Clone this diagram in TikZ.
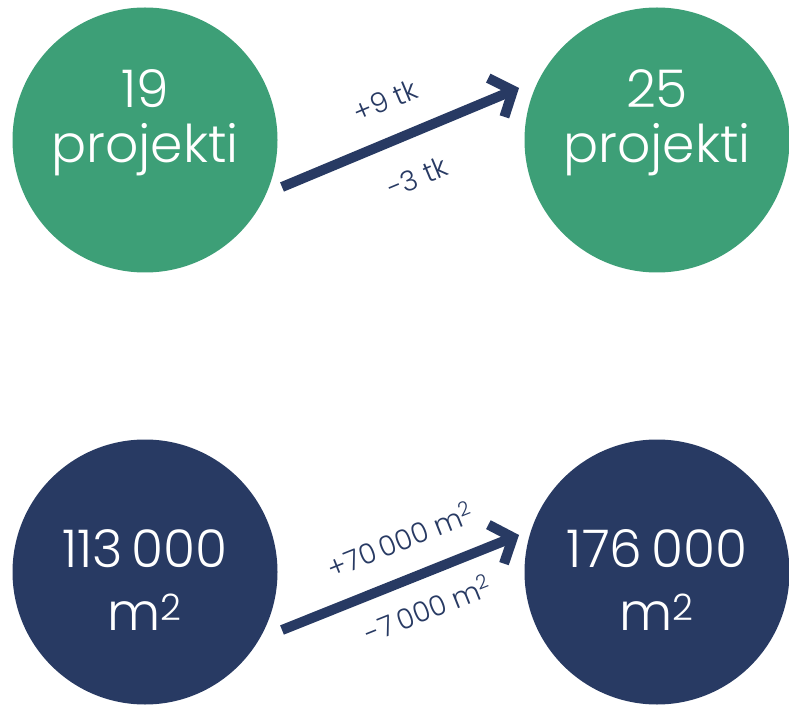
\documentclass[tikz,border=0pt]{standalone}
\usepackage{fontspec}
\setmainfont{Poppins}[UprightFont={* Light}]
\usetikzlibrary{arrows.meta}
\definecolor{kgreen}{HTML}{3D9F77}
\definecolor{knavy}{HTML}{283A63}
\tikzset{
	bubble/.style={circle, minimum size=265pt, inner sep=0pt},
	bigtxt/.style={text=white, anchor=base, font=\fontsize{52}{56}\selectfont},
	growth/.style={draw=knavy, line width=10pt, -{Straight Barb[length=18pt, width=42pt]}},
	steptxt/.style={text=knavy, sloped, inner sep=1pt, font=\fontsize{28}{30}\selectfont}
}

\begin{document}
\begin{tikzpicture}[x=1pt, y=-1pt]
		%%%%% START %%%%%
		\useasboundingbox (0, 0) rectangle (789, 708);
		
		% projektit
		\node[bubble, fill=kgreen] (p19) at (145, 140) {};
		\node[bubble, fill=kgreen] (p25) at (657, 140) {};
		\node[bigtxt] at ([yshift=32pt]p19.center) {19};
		\node[bigtxt] at ([yshift=-23pt]p19.center) {projekti};
		\node[bigtxt] at ([yshift=32pt]p25.center) {25};
		\node[bigtxt] at ([yshift=-23pt]p25.center) {projekti};
		
		\coordinate (pa) at (282, 187);
		\coordinate (pb) at (519, 88);
		\draw[growth] (pa) -- (pb)
			node[steptxt, midway, yshift=40pt] (plus1) {+9 tk}
			node[steptxt, midway, yshift=-43pt] (minus1) {-3 tk};
		
		% neliöt
		\node[bubble, fill=knavy] (m113) at (145, 572) {};
		\node[bubble, fill=knavy] (m176) at (657, 572) {};
		\node[bigtxt] at ([yshift=5pt]m113.center) {113\,000};
		\node[bigtxt] at ([yshift=-58pt]m113.center) {m\textsuperscript{2}};
		\node[bigtxt] at ([yshift=5pt]m176.center) {176\,000};
		\node[bigtxt] at ([yshift=-58pt]m176.center) {m\textsuperscript{2}};
		
		\coordinate (ma) at (282, 630);
		\coordinate (mb) at (519, 535);
		\draw[growth] (ma) -- (mb)
			node[steptxt, pos=0.56, yshift=40pt] (plus2) {+70\,000 m\textsuperscript{2}}
			node[steptxt, pos=0.56, yshift=-34pt] (minus2) {-7\,000 m\textsuperscript{2}};
		%%%%% END %%%%%
	\end{tikzpicture}
\end{document}
